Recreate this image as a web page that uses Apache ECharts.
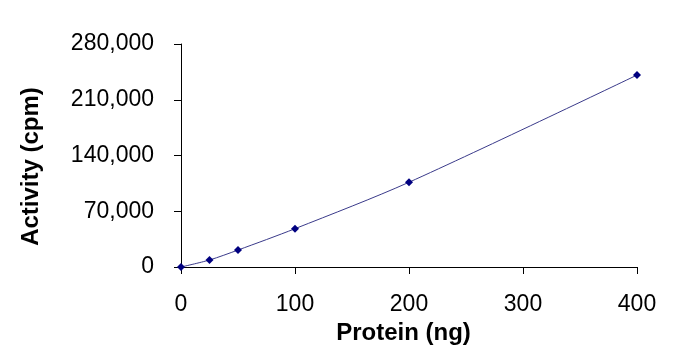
<!DOCTYPE html>
<html>
<head>
<meta charset="utf-8">
<script src="https://cdn.jsdelivr.net/npm/echarts@6/dist/echarts.min.js"></script>
<style>
	html, body { margin: 0; padding: 0; background: #fff; }
	#chart { width: 676px; height: 354px; }
</style>
</head>
<body>
<div id="chart"></div>
<script>
// protein amount (ng) and measured activity (cpm)
var protein  = [0, 25, 50, 100, 200, 400];
var activity = [0, 8800, 21300, 48100, 106400, 241000];
var xTicks = [0, 100, 200, 300, 400];
var yTicks = [0, 70000, 140000, 210000, 280000];

var points = [];
for (var i = 0; i < protein.length; i++) {
	points.push([protein[i], activity[i]]);
}

var myChart = echarts.init(document.getElementById('chart'));
var option = {
	backgroundColor: '#fff',
	animation: false,
	grid: { left: 181, right: 39, top: 44, bottom: 87 },
	xAxis: {
		type: 'value',
		min: xTicks[0],
		max: xTicks[xTicks.length - 1],
		interval: 100,
		name: 'Protein (ng)',
		nameLocation: 'middle',
		nameGap: 43,
		nameTextStyle: { fontFamily: 'Liberation Sans', fontSize: 24, fontWeight: 'bold', color: '#000', padding: [0, 11, 0, 0] },
		axisLine: { lineStyle: { color: '#000', width: 1 } },
		axisTick: { show: true, length: 7, lineStyle: { color: '#000' } },
		axisLabel: { margin: 26, fontFamily: 'Liberation Sans', fontSize: 23, color: '#000' },
		splitLine: { show: false }
	},
	yAxis: {
		type: 'value',
		min: yTicks[0],
		max: yTicks[yTicks.length - 1],
		interval: 70000,
		name: 'Activity (cpm)',
		nameLocation: 'middle',
		nameGap: 138,
		nameTextStyle: { fontFamily: 'Liberation Sans', fontSize: 24, fontWeight: 'bold', color: '#000', padding: [0, 22, 0, 0] },
		axisLine: { show: true, lineStyle: { color: '#000', width: 1 } },
		axisTick: { show: true, length: 7, lineStyle: { color: '#000' } },
		axisLabel: {
			margin: 27,
			fontFamily: 'Liberation Sans',
			fontSize: 23,
			color: '#000',
			formatter: function (v) { return v.toLocaleString('en-US'); }
		},
		splitLine: { show: false }
	},
	series: [
		{
			type: 'line',
			data: points,
			smooth: 0.3,
			symbol: 'diamond',
			symbolSize: 8,
			itemStyle: { color: '#000080' },
			lineStyle: { color: '#3a3a8a', width: 1 }
		}
	]
};
myChart.setOption(option);
</script>
</body>
</html>
